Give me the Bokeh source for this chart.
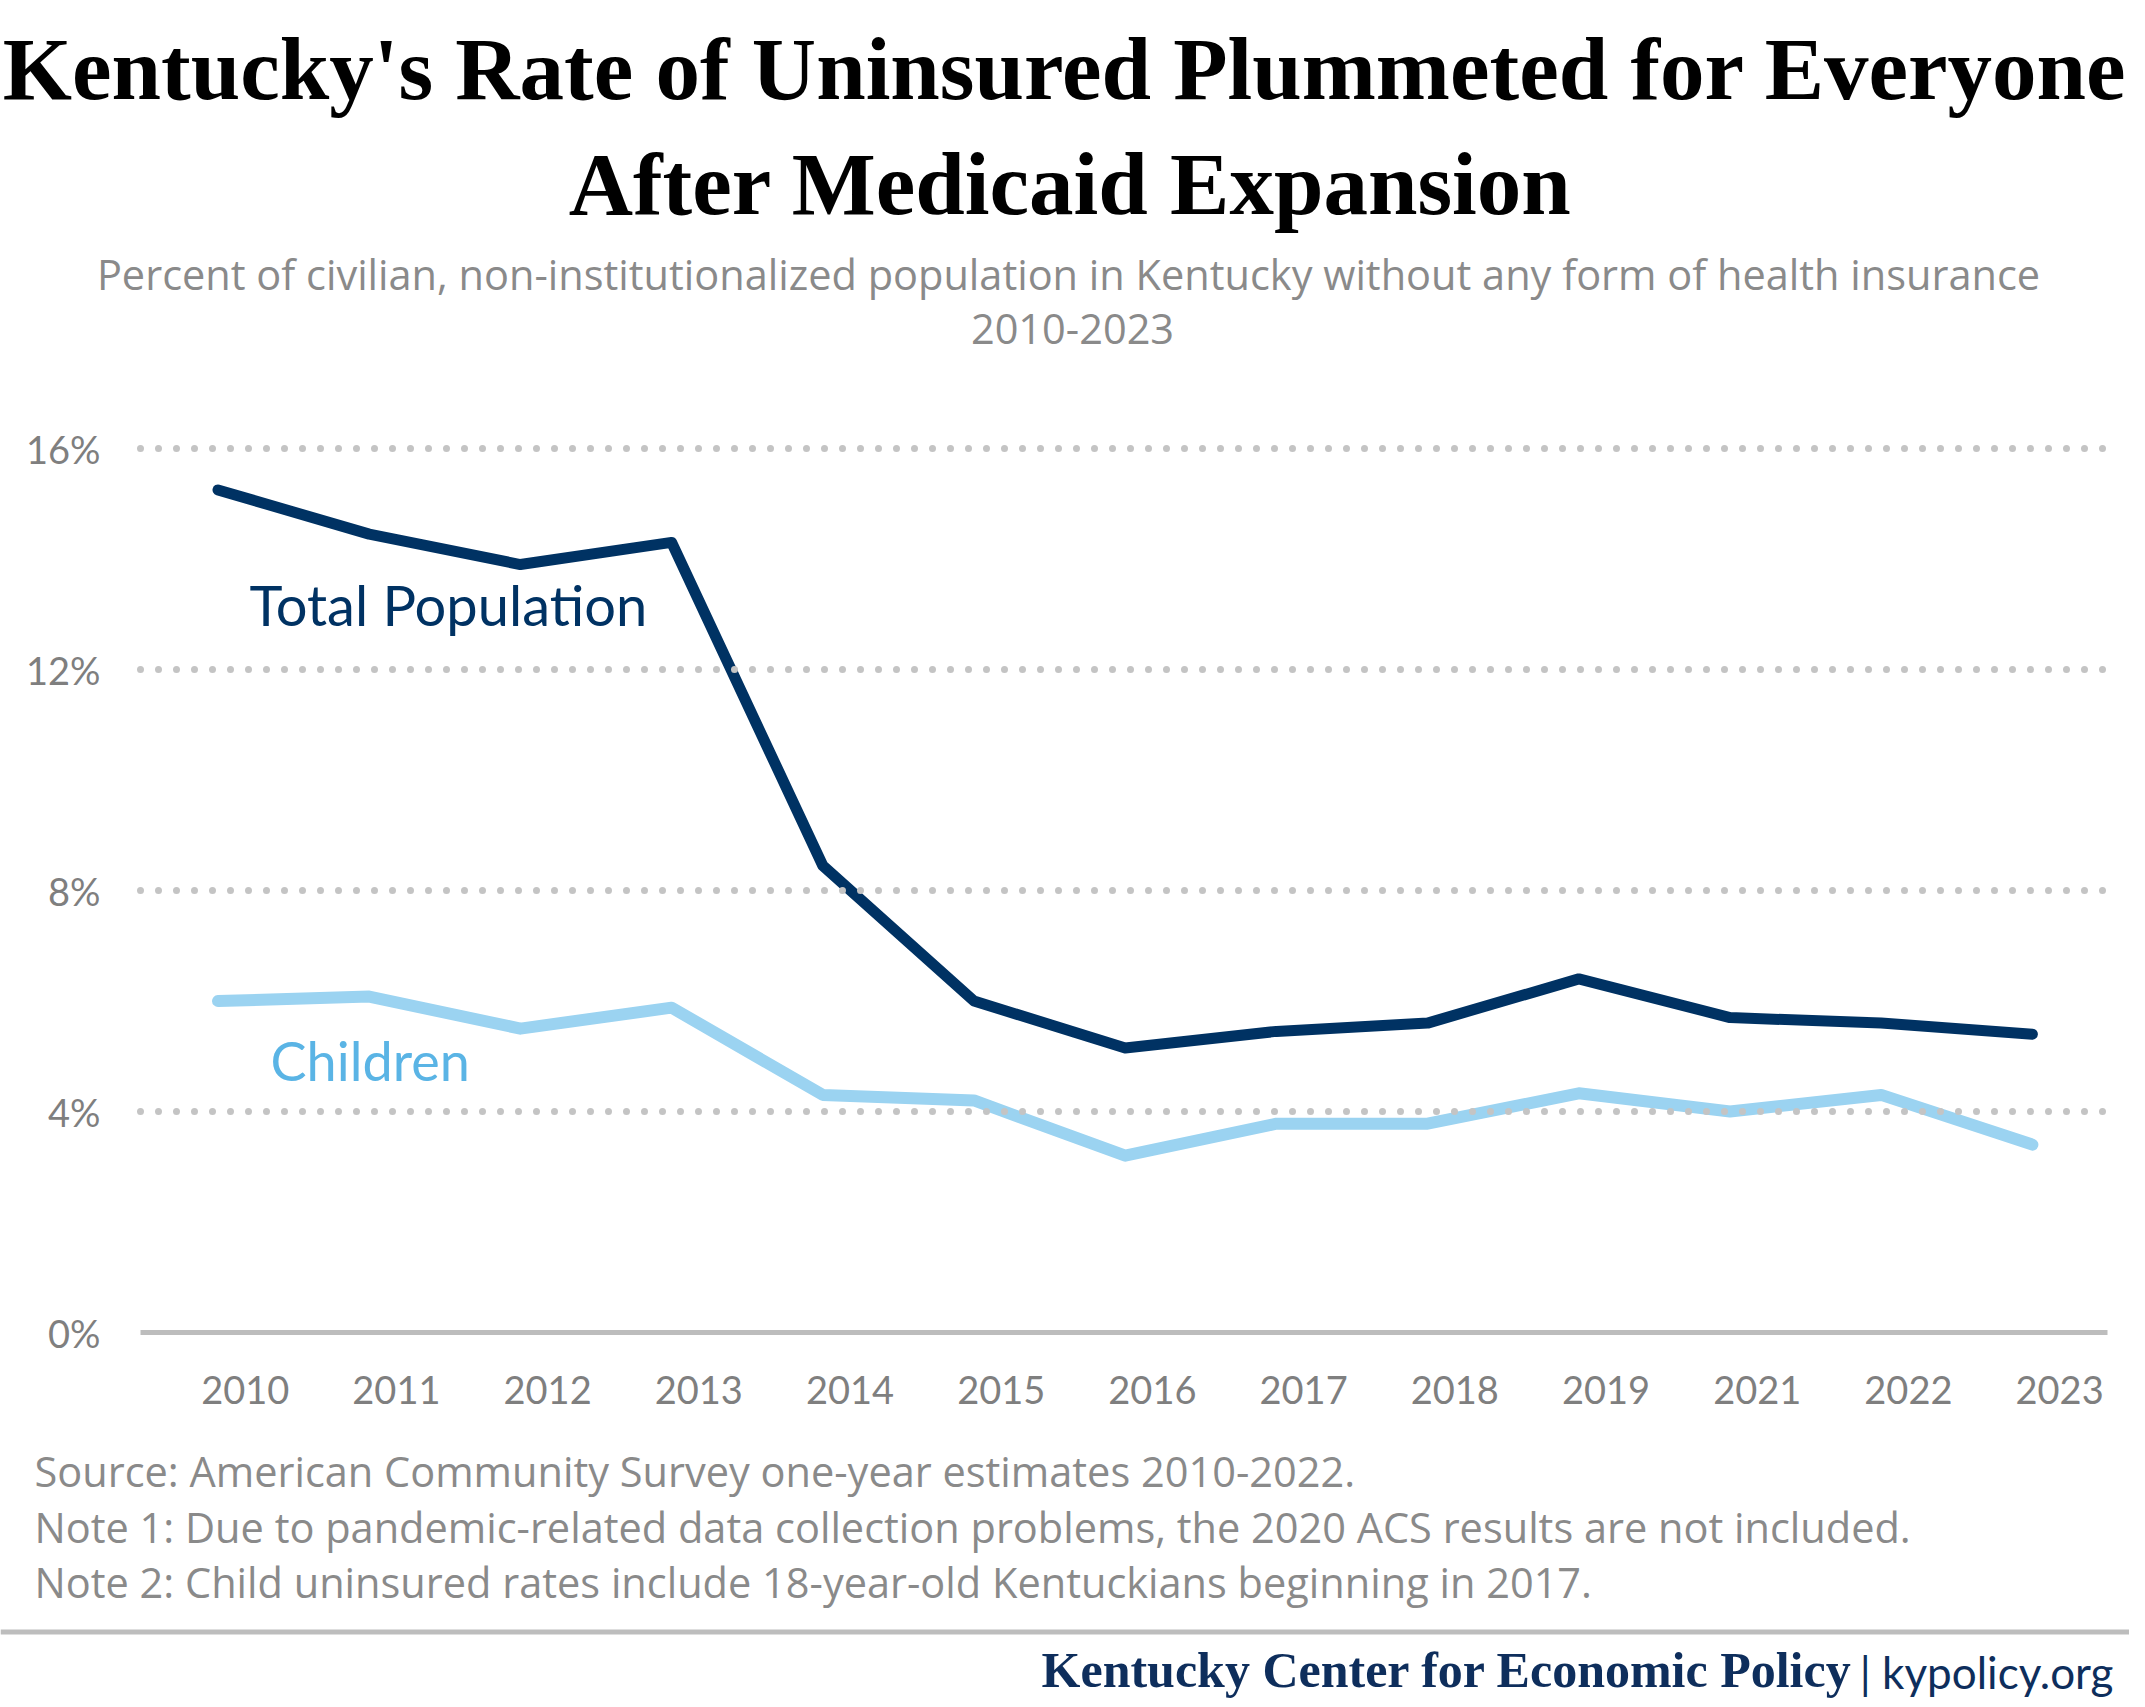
from bokeh.plotting import figure
from bokeh.models import (Range1d, FixedTicker, CustomJSTickFormatter, PrintfTickFormatter,
                          Label, Span, LinearAxis)
from bokeh.embed import file_html
from bokeh.resources import INLINE

years = ["2010", "2011", "2012", "2013", "2014", "2015", "2016",
         "2017", "2018", "2019", "2021", "2022", "2023"]
total_population = [15.25, 14.45, 13.9, 14.3, 8.45, 6.0, 5.15, 5.45, 5.6, 6.4, 5.7, 5.6, 5.4]
children = [6.0, 6.08, 5.5, 5.88, 4.3, 4.2, 3.2, 3.78, 3.78, 4.33, 4.0, 4.3, 3.4]
y_ticks = [0, 4, 8, 12, 16]
grid_ticks = [4, 8, 12, 16]

title_lines = ["Kentucky's Rate of Uninsured Plummeted for Everyone", "After Medicaid Expansion"]
subtitle_lines = ["Percent of civilian, non-institutionalized population in Kentucky without any form of health insurance",
                  "2010-2023"]
notes = ["Source: American Community Survey one-year estimates 2010-2022.",
         "Note 1: Due to pandemic-related data collection problems, the 2020 ACS results are not included.",
         "Note 2: Child uninsured rates include 18-year-old Kentuckians beginning in 2017."]
org_name = "Kentucky Center for Economic Policy"
org_site = "| kypolicy.org"

NAVY = "#003263"
LIGHT = "#9bd3f1"
LIGHT_TXT = "#5ab4e5"
GRAY_TXT = "#8a8a8a"
TICK_TXT = "#7f7f7f"
SANS = "Lato"
BODY = "Open Sans"
SERIF = "Liberation Serif"

W, H = 2129, 1698
# layout geometry (pixels)
PX_X, X0_PX = 151.2, 217.5        # px per year step, px of first year
PX_Y, Y0_PX = 55.25, 1332.0       # px per percentage point, px of 0%
PLOT_L, PLOT_R = 140, 2107        # plot area edges


def dx(px):
    return (px - X0_PX) / PX_X


def dy(py):
    return (Y0_PX - py) / PX_Y


p = figure(width=W, height=H, output_backend="svg", toolbar_location=None,
           x_range=Range1d(dx(0), dx(W)), y_range=Range1d(dy(H), dy(0)),
           min_border=0, min_border_left=0, min_border_right=0,
           min_border_top=0, min_border_bottom=0)
p.outline_line_color = None
p.background_fill_color = "white"
p.border_fill_color = "white"
p.xgrid.visible = False
p.ygrid.visible = False

# dotted gridlines: long ticks of an extra axis placed at the right edge of the plot area
grid_axis = LinearAxis(ticker=FixedTicker(ticks=grid_ticks), fixed_location=dx(PLOT_R),
                       axis_line_color=None, major_tick_in=0, major_tick_out=PLOT_R - PLOT_L,
                       major_tick_line_color="#c4c4c4", major_tick_line_width=7,
                       major_tick_line_dash="0 18", major_tick_line_cap="round",
                       minor_tick_line_color=None, major_label_text_color=None)
p.add_layout(grid_axis, "left")

xs = list(range(len(years)))
p.line(xs, total_population, line_color=NAVY, line_width=11, line_cap="round", line_join="round")
p.line(xs, children, line_color=LIGHT, line_width=12, line_cap="round", line_join="round")

xa = p.xaxis[0]
xa.fixed_location = 0
xa.bounds = (dx(PLOT_L), dx(PLOT_R))
xa.ticker = FixedTicker(ticks=[i + 0.18 for i in xs])
xa.formatter = CustomJSTickFormatter(args=dict(labels=years),
                                     code="return labels[Math.round(tick - 0.18)];")
xa.axis_line_color = "#bdbdbd"
xa.axis_line_width = 5
xa.major_tick_line_color = None
xa.minor_tick_line_color = None
xa.major_tick_out = 0
xa.major_tick_in = 0
xa.major_label_standoff = 43
xa.major_label_text_font = SANS
xa.major_label_text_font_size = "38px"
xa.major_label_text_color = TICK_TXT

ya = p.yaxis[0]
ya.fixed_location = dx(PLOT_L)
ya.ticker = FixedTicker(ticks=y_ticks)
ya.formatter = PrintfTickFormatter(format="%d%%")
ya.axis_line_color = None
ya.major_tick_line_color = None
ya.minor_tick_line_color = None
ya.major_tick_out = 0
ya.major_tick_in = 0
ya.major_label_standoff = 40
ya.major_label_text_font = SANS
ya.major_label_text_font_size = "38px"
ya.major_label_text_color = TICK_TXT

BASE_SHIFT = 0.34  # rendered baseline sits about this many em lower than requested


def add_text(txt, px, py, size, font, color, align="left", style="normal"):
    p.add_layout(Label(x=px, y=H - (py - BASE_SHIFT * size), x_units="screen", y_units="screen",
                       text=txt, text_align=align, text_baseline="alphabetic",
                       text_font=font, text_font_style=style,
                       text_font_size=f"{size}px", text_color=color))


add_text(title_lines[0], 1064.5, 99, 89, SERIF, "black", align="center", style="bold")
add_text(title_lines[1], 1070, 214, 89, SERIF, "black", align="center", style="bold")
add_text(subtitle_lines[0], 1068, 288, 41.5, BODY, GRAY_TXT, align="center")
add_text(subtitle_lines[1], 1072, 343, 41.5, BODY, GRAY_TXT, align="center")

# series labels (data units)
p.add_layout(Label(x=dx(249), y=dy(623 - BASE_SHIFT * 56), text="Total Population",
                   text_align="left", text_baseline="alphabetic", text_font=SANS,
                   text_font_size="56px", text_color=NAVY))
p.add_layout(Label(x=dx(270), y=dy(1078 - BASE_SHIFT * 54), text="Children",
                   text_align="left", text_baseline="alphabetic", text_font=SANS,
                   text_font_size="54px", text_color=LIGHT_TXT))

for txt, base in zip(notes, [1485, 1541, 1596]):
    add_text(txt, 34, base, 41.5, BODY, GRAY_TXT)

p.add_layout(Span(location=H - 1631.5, location_units="screen", dimension="width",
                  line_color="#bdbdbd", line_width=5))

add_text(org_name, 1852, 1686, 50, SERIF, "#0e2e5c", align="right", style="bold")
add_text(org_site, 2113, 1686, 44, SANS, "#0e2e5c", align="right")

open("out.html", "w").write(file_html(p, INLINE))
